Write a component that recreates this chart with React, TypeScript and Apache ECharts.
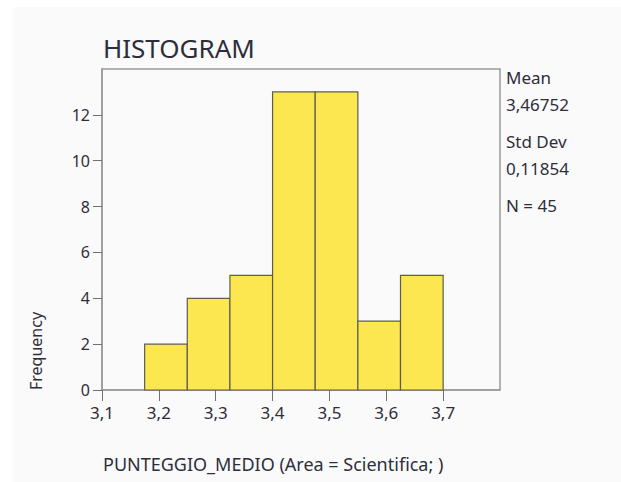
import React, { useEffect, useRef } from "react";
import * as echarts from "echarts";

const binStarts = [3.175, 3.25, 3.325, 3.4, 3.475, 3.55, 3.625];
const binWidth = 0.075;
const counts = [2, 4, 5, 13, 13, 3, 5];
const xTicks = [3.1, 3.2, 3.3, 3.4, 3.5, 3.6, 3.7];
const yTicks = [0, 2, 4, 6, 8, 10, 12];
const statLines = ["Mean", "3,46752", "Std Dev", "0,11854", "N = 45"];
const titleText = "HISTOGRAM";
const xTitle = "PUNTEGGIO_MEDIO (Area = Scientifica; )";
const yTitle = "Frequency";

const FONT = "Noto Sans";
const TEXT = "#2e2e3a";
const FRAME = "#9a9a9a";

export default function App() {
  const ref = useRef<HTMLDivElement>(null);
  useEffect(() => {
    document.body.style.margin = "0";
    const chart = echarts.init(ref.current!, null, { renderer: "svg" });
    const data = binStarts.map((s, i) => [s, s + binWidth, counts[i]]);
    const statY = [77, 104, 141, 168, 205];
    chart.setOption({
      animation: false,
      backgroundColor: "#ffffff",
      grid: {
        left: 102,
        top: 69,
        right: 121,
        bottom: 92,
        show: true,
        borderColor: FRAME,
        borderWidth: 1.5,
        backgroundColor: "transparent",
      },
      xAxis: {
        type: "value",
        min: 3.1,
        max: 3.8,
        interval: 0.1,
        splitLine: { show: false },
        axisLine: { lineStyle: { color: FRAME, width: 1.5 } },
        axisTick: { length: 11, customValues: xTicks, lineStyle: { color: "#707070", width: 1 } },
        axisLabel: {
          customValues: xTicks,
          margin: 14,
          fontFamily: FONT,
          fontSize: 17,
          color: TEXT,
          formatter: (v: number) => v.toFixed(1).replace(".", ","),
        },
      },
      yAxis: {
        type: "value",
        min: 0,
        max: 14,
        interval: 2,
        splitLine: { show: false },
        axisLine: { lineStyle: { color: FRAME, width: 1.5 } },
        axisTick: { length: 9, customValues: yTicks, lineStyle: { color: "#707070", width: 1 } },
        axisLabel: {
          customValues: yTicks,
          margin: 12,
          fontFamily: FONT,
          fontSize: 16,
          color: TEXT,
        },
      },
      series: [
        {
          type: "custom",
          data,
          encode: { x: [0, 1], y: 2 },
          renderItem: (params: any, api: any) => {
            const p0 = api.coord([api.value(0), api.value(2)]);
            const p1 = api.coord([api.value(1), 0]);
            return {
              type: "rect",
              shape: { x: p0[0], y: p0[1], width: p1[0] - p0[0], height: p1[1] - p0[1] },
              style: { fill: "#fce750", stroke: "#5e5e50", lineWidth: 1.2 },
            };
          },
        },
      ],
      graphic: [
        {
          type: "rect",
          z: -10,
          silent: true,
          shape: { x: 13, y: 7, width: 621, height: 482 },
          style: { fill: "#fafafa" },
        },
        {
          type: "text",
          x: 103,
          y: 48,
          style: {
            text: titleText,
            font: `26px "${FONT}"`,
            fill: TEXT,
            textVerticalAlign: "middle",
          },
        },
        ...statLines.map((t, i) => ({
          type: "text",
          x: 506,
          y: statY[i],
          style: { text: t, font: `17px "${FONT}"`, fill: TEXT, textVerticalAlign: "middle" },
        })),
        {
          type: "text",
          x: 103,
          y: 464,
          style: { text: xTitle, font: `18px "${FONT}"`, fill: TEXT, textVerticalAlign: "middle" },
        },
        {
          type: "text",
          x: 36,
          y: 390,
          rotation: Math.PI / 2,
          style: {
            text: yTitle,
            font: `16px "${FONT}"`,
            fill: TEXT,
            textAlign: "left",
            textVerticalAlign: "middle",
          },
        },
      ],
    });
    return () => chart.dispose();
  }, []);
  return (
    <div
      ref={ref}
      style={{ position: "absolute", left: 0, top: 0, width: 621, height: 482 }}
    />
  );
}
